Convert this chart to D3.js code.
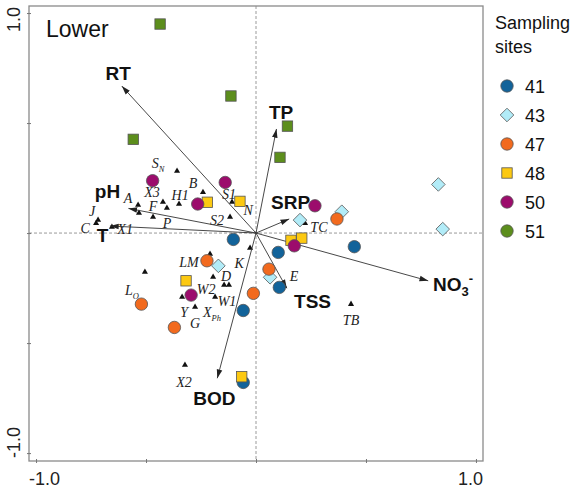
<!DOCTYPE html>
<html><head><meta charset="utf-8">
<script src="https://cdn.jsdelivr.net/npm/d3@7"></script>
<style>body{margin:0;background:#fff}svg{display:block}</style>
</head><body>
<div id="chart"></div>
<script>
// ---------- data ----------
const axisTicks = [-1, -0.5, 0, 0.5, 1];
const axisTickLabels = ["-1.0", "1.0"];
const panelTitle = "Lower";
const legendTitle = ["Sampling", "sites"];
const siteIds = ["41", "43", "47", "48", "50", "51"];
const siteColors = ["#12639a", "#b2ecf8", "#f26a1e", "#fcc912", "#9c0c6c", "#5c8e1c"];
const siteShapesPlot = ["circle", "diamond", "circle", "square", "circle", "square"];
const siteShapesLegend = ["circle", "diamond", "circle", "square", "circle", "circle"];
const site41 = [[-0.103,-0.029],[0.101,-0.088],[0.447,-0.062],[0.106,-0.247],[-0.058,-0.352],[-0.058,-0.679]];
const site43 = [[0.829,0.221],[0.849,0.018],[0.39,0.097],[0.2,0.059],[0.064,-0.201],[-0.171,-0.149]];
const site47 = [[0.368,0.064],[0.059,-0.164],[-0.012,-0.274],[-0.223,-0.126],[-0.521,-0.323],[-0.371,-0.429]];
const site48 = [[-0.221,0.14],[-0.073,0.144],[0.159,-0.033],[0.208,-0.023],[-0.318,-0.217],[-0.065,-0.653]];
const site50 = [[-0.47,0.238],[-0.14,0.23],[-0.265,0.132],[0.268,0.124],[0.174,-0.058],[-0.295,-0.282]];
const site51 = [[-0.436,0.95],[-0.114,0.623],[-0.558,0.426],[0.143,0.486],[0.109,0.344]];
const siteScores = [site41, site43, site47, site48, site50, site51];

// environmental variables: arrow tip (x,y) and label anchor (lx,ly)
const envNames = ["RT", "TP", "SRP", "NO3-", "TSS", "BOD", "pH", "T"];
const envX  = [-0.61, 0.093, 0.151, 0.783, 0.14, -0.176, -0.58, -0.664];
const envY  = [0.668, 0.473, 0.064, -0.217, -0.251, -0.66, 0.112, 0.032];
const envLX = [-0.627, 0.114, 0.157, 0.805, 0.257, -0.189, -0.675, -0.698];
const envLY = [0.695, 0.518, 0.109, -0.264, -0.341, -0.782, 0.159, -0.041];

// species: name, subscript, score x,y, label x,y
const spNames = ["S","B","S1","N","S2","H1","X3","F","P","A","","J","C","X1","L","LM","K","D","W2","W1","X","Y","G","X2","TC","E","TB"];
const spSubs  = ["N","","","","","","","","","","","","","","O","","","","","","Ph","","","","","",""];
const spX  = [-0.359,-0.241,-0.109,-0.073,-0.118,-0.35,-0.423,-0.532,-0.468,-0.536,-0.405,-0.718,-0.727,-0.655,-0.505,-0.209,-0.027,-0.195,-0.145,-0.123,-0.186,-0.336,-0.277,-0.323,0.223,0.127,0.432];
const spY  = [0.282,0.186,0.141,0.136,0.073,0.132,0.141,0.091,0.073,0.127,0.114,0.059,0.045,0.027,-0.177,-0.095,-0.068,-0.2,-0.236,-0.236,-0.291,-0.291,-0.336,-0.6,0.045,-0.241,-0.323];
const spLX = [-0.445,-0.286,-0.123,-0.036,-0.177,-0.345,-0.473,-0.468,-0.405,-0.582,0,-0.745,-0.777,-0.595,-0.564,-0.305,-0.077,-0.136,-0.227,-0.132,-0.2,-0.327,-0.277,-0.327,0.286,0.173,0.432];
const spLY = [0.318,0.227,0.177,0.105,0.059,0.173,0.186,0.122,0.045,0.159,0,0.1,0.023,0.018,-0.259,-0.132,-0.136,-0.195,-0.255,-0.309,-0.359,-0.359,-0.409,-0.677,0.027,-0.195,-0.395];

// ---------- drawing ----------
const W = 575, H = 490;
const svg = d3.select("#chart").append("svg").attr("width", W).attr("height", H);
const sans = "'Liberation Sans', Arial, Helvetica, sans-serif";
const serif = "'Liberation Serif', 'Times New Roman', serif";

const x = d3.scaleLinear().domain([-1.032, 1.032]).range([29, 483]);
const y = d3.scaleLinear().domain([-1.036, 1.032]).range([461, 6]);

// zero lines
svg.append("line").attr("x1", x(0)).attr("x2", x(0)).attr("y1", y.range()[1]).attr("y2", y.range()[0])
  .attr("stroke", "#9a9a9a").attr("stroke-dasharray", "3,2").attr("stroke-width", 1);
svg.append("line").attr("x1", x.range()[0]).attr("x2", x.range()[1]).attr("y1", y(0)).attr("y2", y(0))
  .attr("stroke", "#9a9a9a").attr("stroke-dasharray", "3,2").attr("stroke-width", 1);

// box
svg.append("rect").attr("x", x.range()[0]).attr("y", y.range()[1])
  .attr("width", x.range()[1] - x.range()[0]).attr("height", y.range()[0] - y.range()[1])
  .attr("fill", "none").attr("stroke", "#8a8a8a").attr("stroke-width", 1.3);

// axes (ticks)
const gx = svg.append("g").attr("transform", `translate(0,${y.range()[0] + 2})`)
  .call(d3.axisBottom(x).tickValues(axisTicks).tickSize(-4).tickFormat(""));
gx.select(".domain").remove();
gx.selectAll("line").attr("stroke", "#777");
const gy = svg.append("g").attr("transform", `translate(${x.range()[0] - 2},0)`)
  .call(d3.axisLeft(y).tickValues(axisTicks).tickSize(-4).tickFormat(""));
gy.select(".domain").remove();
gy.selectAll("line").attr("stroke", "#777");

// axis labels
svg.append("text").attr("x", x.range()[0]).attr("y", 485).attr("text-anchor", "start")
  .attr("font-family", sans).attr("font-size", 18).attr("fill", "#222").text(axisTickLabels[0]);
svg.append("text").attr("x", x.range()[1]).attr("y", 485).attr("text-anchor", "end")
  .attr("font-family", sans).attr("font-size", 18).attr("fill", "#222").text(axisTickLabels[1]);
svg.append("text").attr("transform", `translate(20,${y.range()[1] + 1}) rotate(-90)`).attr("text-anchor", "end")
  .attr("font-family", sans).attr("font-size", 18).attr("fill", "#222").text(axisTickLabels[1]);
svg.append("text").attr("transform", `translate(20,${y.range()[0] - 3}) rotate(-90)`).attr("text-anchor", "start")
  .attr("font-family", sans).attr("font-size", 18).attr("fill", "#222").text(axisTickLabels[0]);

// title
svg.append("text").attr("x", 46).attr("y", 37).attr("font-family", sans).attr("font-size", 23)
  .attr("fill", "#111").text(panelTitle);

// arrow marker
svg.append("defs").append("marker").attr("id", "ah").attr("viewBox", "0 -4 10 8")
  .attr("refX", 10).attr("refY", 0).attr("markerWidth", 9).attr("markerHeight", 7)
  .attr("markerUnits", "userSpaceOnUse").attr("orient", "auto")
  .append("path").attr("d", "M0,-3.2L10,0L0,3.2Z").attr("fill", "#222");

// species triangles
const tri = d3.symbol().type(d3.symbolTriangle).size(16);
svg.append("g").selectAll("path").data(spNames).join("path")
  .attr("d", tri).attr("transform", (d, i) => `translate(${x(spX[i])},${y(spY[i])})`).attr("fill", "#111");

// species labels
const spg = svg.append("g").attr("font-family", serif).attr("font-style", "italic").attr("font-size", 14).attr("fill", "#222");
spNames.forEach((n, i) => {
  if (!n) return;
  const t = spg.append("text").attr("x", x(spLX[i])).attr("y", y(spLY[i])).attr("dy", "0.35em").attr("text-anchor", "middle");
  t.append("tspan").text(n);
  if (spSubs[i]) t.append("tspan").attr("font-size", 8.5).attr("dy", 4).text(spSubs[i]);
});

// env arrows
const eg = svg.append("g");
envNames.forEach((n, i) => {
  eg.append("line").attr("x1", x(0)).attr("y1", y(0)).attr("x2", x(envX[i])).attr("y2", y(envY[i]))
    .attr("stroke", "#333").attr("stroke-width", 0.9).attr("marker-end", "url(#ah)");
});

// sites
const siteG = svg.append("g");
function drawShape(g, shape, cx, cy, color) {
  let el;
  if (shape === "circle") el = g.append("circle").attr("cx", cx).attr("cy", cy).attr("r", 6.2);
  else if (shape === "square") el = g.append("rect").attr("x", cx - 5.2).attr("y", cy - 5.2).attr("width", 10.4).attr("height", 10.4);
  else el = g.append("path").attr("d", `M${cx},${cy - 6.8}L${cx + 6.8},${cy}L${cx},${cy + 6.8}L${cx - 6.8},${cy}Z`);
  el.attr("fill", color).attr("stroke", "#555").attr("stroke-width", 0.8);
}
siteScores.forEach((pts, k) => {
  pts.forEach(p => drawShape(siteG, siteShapesPlot[k], x(p[0]), y(p[1]), siteColors[k]));
});

// env labels
const lg = svg.append("g").attr("font-family", sans).attr("font-weight", "bold").attr("font-size", 19).attr("fill", "#111");
envNames.forEach((n, i) => {
  if (n === "NO3-") {
    const t = lg.append("text").attr("x", x(envLX[i])).attr("y", y(envLY[i])).attr("text-anchor", "start");
    t.append("tspan").text("NO");
    t.append("tspan").attr("font-size", 13).attr("dy", 5).text("3");
    t.append("tspan").attr("font-size", 13).attr("dy", -13).attr("dx", 0).text("-");
  } else {
    lg.append("text").attr("x", x(envLX[i])).attr("y", y(envLY[i])).attr("text-anchor", "middle").text(n);
  }
});

// legend
const leg = svg.append("g").attr("font-family", sans).attr("fill", "#111");
leg.append("text").attr("x", 495).attr("y", 29).attr("font-size", 18).text(legendTitle[0]);
leg.append("text").attr("x", 495).attr("y", 53).attr("font-size", 18).text(legendTitle[1]);
const legY = d3.scalePoint().domain(siteIds).range([86, 231]);
siteIds.forEach((id, k) => {
  drawShape(leg, siteShapesLegend[k], 507, legY(id), siteColors[k]);
  leg.append("text").attr("x", 525).attr("y", legY(id) + 6.5).attr("font-size", 18).text(id);
});
</script>
</body></html>
